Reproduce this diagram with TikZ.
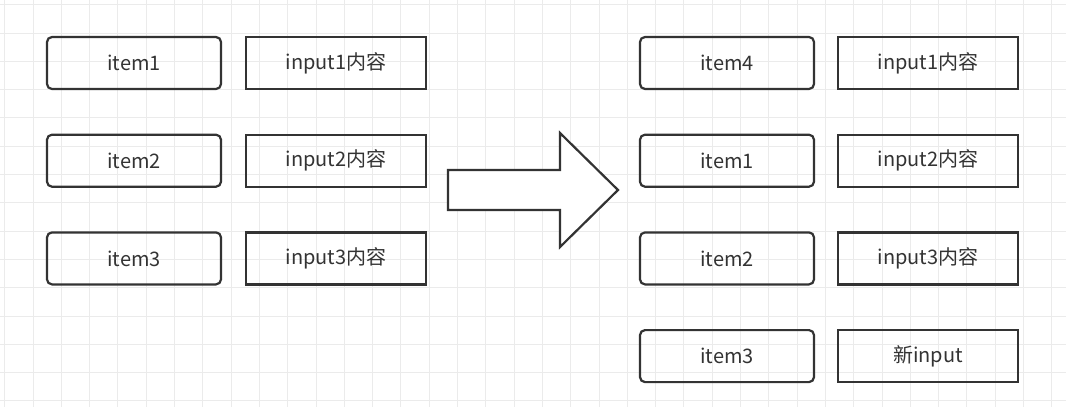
\documentclass[tikz,border=0pt]{standalone}
\usepackage{fontspec}
\setmainfont{Noto Sans CJK SC}
\usetikzlibrary{positioning}
\definecolor{gridc}{RGB}{235,235,235}
\definecolor{linec}{RGB}{51,51,51}
\tikzset{
  item/.style = {draw=linec, line width=2.2pt, rounded corners=5pt, minimum width=174pt, minimum height=52pt, font=\fontsize{20}{24}\selectfont, text=linec},
  inbox/.style = {draw=linec, line width=2.2pt, minimum width=180pt, minimum height=52pt, font=\fontsize{20}{24}\selectfont, text=linec},
}
\begin{document}
\begin{tikzpicture}[x=1pt,y=-1pt]
  \useasboundingbox (0,0) rectangle (1066,407);
  % grid
  \foreach \i in {0,...,37} {
    \draw[gridc, line width=1pt] ({4.7+28.3*\i},0) -- ({4.7+28.3*\i},407);
  }
  \foreach \j in {0,...,14} {
    \draw[gridc, line width=1pt] (0,{4.7+28.3*\j}) -- (1066,{4.7+28.3*\j});
  }
  % left
  \node[item] (l1) at (134,63) {item1};
  \node[item, below=43.5pt of l1] (l2) {item2};
  \node[item, below=43.5pt of l2] (l3) {item3};
  \node[inbox] (li1) at (336,63) {input1内容};
  \node[inbox, below=43.5pt of li1] (li2) {input2内容};
  \node[inbox, below=43.5pt of li2] (li3) {input3内容};
  % arrow
  \draw[linec, line width=2.2pt, fill=white, line join=miter]
    (448,170) -- (560,170) -- (560,133) -- (618,190) -- (560,247) -- (560,210) -- (448,210) -- cycle;
  % right
  \node[item] (r1) at (727,63) {item4};
  \node[item, below=43.5pt of r1] (r2) {item1};
  \node[item, below=43.5pt of r2] (r3) {item2};
  \node[item, below=43.5pt of r3] (r4) {item3};
  \node[inbox] (ri1) at (928,63) {input1内容};
  \node[inbox, below=43.5pt of ri1] (ri2) {input2内容};
  \node[inbox, below=43.5pt of ri2] (ri3) {input3内容};
  \node[inbox, below=43.5pt of ri3] (ri4) {新input};
\end{tikzpicture}
\end{document}
